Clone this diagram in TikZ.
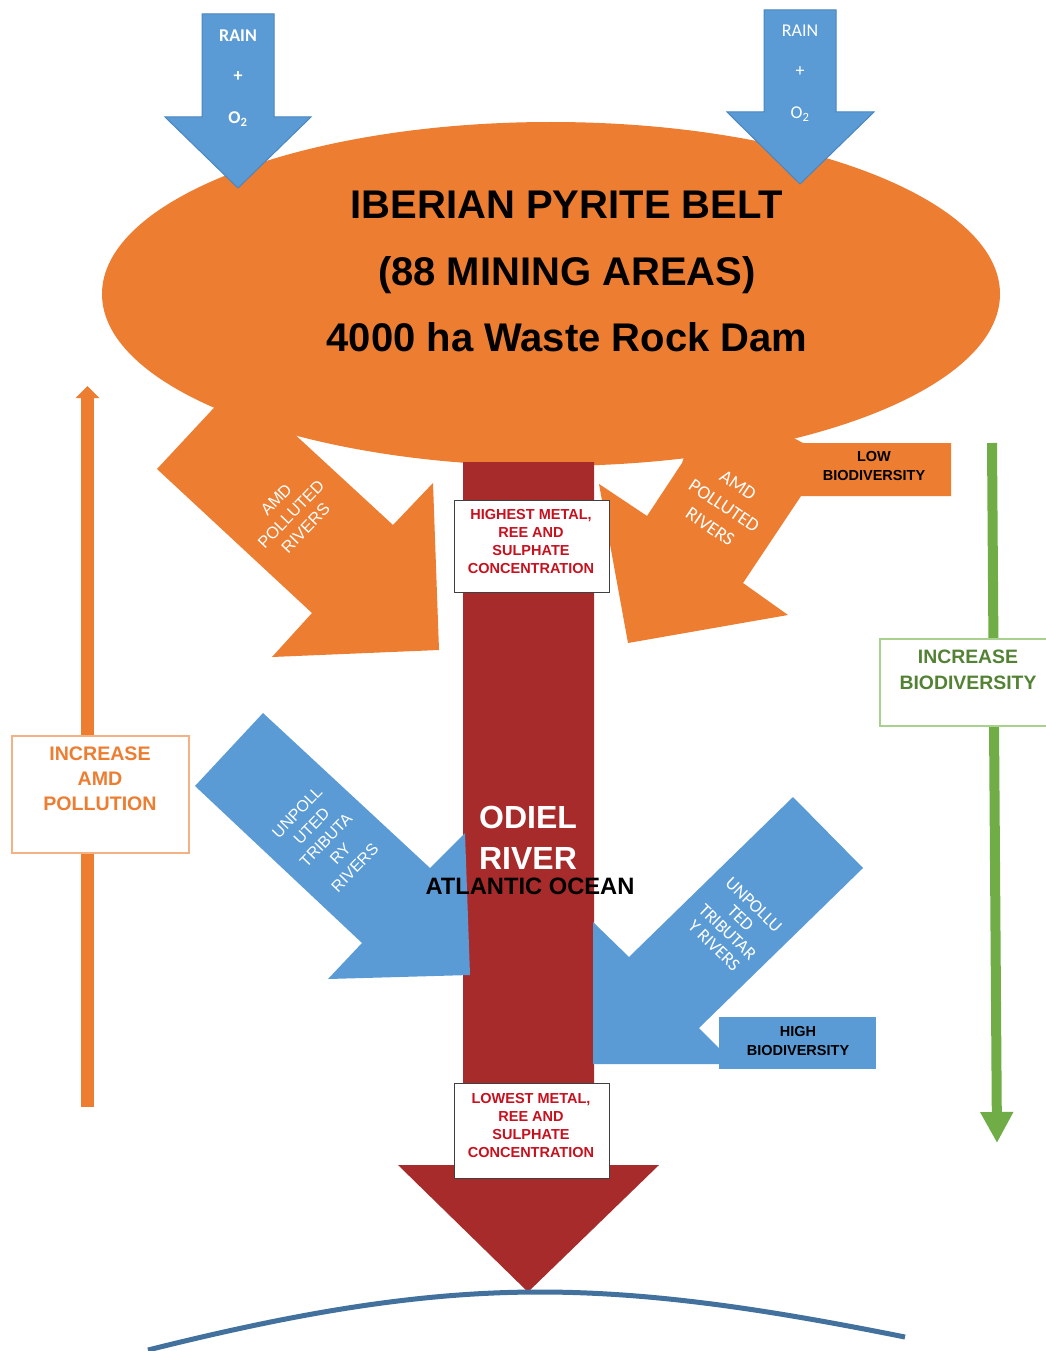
\documentclass[tikz,border=0pt]{standalone}
\usepackage{fontspec}
\setmainfont{Liberation Sans}
\newfontfamily\carl{Carlito}
\usetikzlibrary{shapes.geometric,arrows.meta}
\definecolor{orng}{HTML}{ED7D31}
\definecolor{blu}{HTML}{5B9BD5}
\definecolor{bluedge}{HTML}{4A86C0}
\definecolor{rivr}{HTML}{A82B2B}
\definecolor{txtred}{HTML}{C8101E}
\definecolor{grn}{HTML}{70AD47}
\definecolor{dkgrn}{HTML}{548235}
\definecolor{ltgrn}{HTML}{A9D18E}
\definecolor{ltorng}{HTML}{F4B183}
\definecolor{sea}{HTML}{41719C}
\begin{document}
\begin{tikzpicture}[x=1pt,y=-1pt,
  every node/.style={inner sep=0pt,outer sep=0pt},
  rain/.style={fill=blu,draw=bluedge,line width=1pt},
  raintxt/.style={text=white,font=\carl\fontsize{18}{20}\selectfont},
  whitetxt/.style={text=white,align=center},
  conc/.style={draw=black!75,line width=1pt,fill=white,minimum width=155pt},
  conctxt/.style={text=txtred,align=center,font=\bfseries\fontsize{14.5}{18}\selectfont},
  biotxt/.style={text=black,align=center,font=\bfseries\fontsize{14.5}{19}\selectfont}
]
\useasboundingbox (0,0) rectangle (1046,1351);
\clip (0,0) rectangle (1046,1351);
\fill[white] (0,0) rectangle (1046,1351);

% orange AMD arrows
\fill[orng] (238,382) -- (157,469) -- (312,613) -- (272,657) -- (439,650) -- (433,483) -- (393,525) -- (303,442) -- cycle;
\fill[orng] (690,440) -- (682,463) -- (647,516) -- (599,484) -- (628,643) -- (788,615) -- (743,583) -- (801,496) -- (951,496) -- (951,443) -- (803,443) -- (760,420) -- cycle;

% ellipse
\node[ellipse,fill=orng,minimum width=898pt,minimum height=344pt] (belt) at (551,294) {};

% river
\fill[rivr] (463,462) -- (594,462) -- (594,1165) -- (659,1165) -- (528,1292) -- (398,1165) -- (463,1165) -- cycle;

\node[align=center,font=\bfseries\fontsize{40}{66.5}\selectfont] (belttxt) at (567,271.5) {IBERIAN PYRITE BELT\\(88 MINING AREAS)\\4000 ha Waste Rock Dam};

% rain arrows
\fill[rain] (202,14) -- (274,14) -- (274,117) -- (311,117) -- (238,188) -- (165,117) -- (202,117) -- cycle;
\fill[rain] (764,10) -- (836,10) -- (836,112) -- (874,112) -- (800,184) -- (727,112) -- (764,112) -- cycle;
\node[raintxt,font=\carl\bfseries\fontsize{18}{20}\selectfont] (r1a) at (238,36) {RAIN};
\node[raintxt,font=\carl\bfseries\fontsize{18}{20}\selectfont] (r1b) at (238,77) {+};
\node[raintxt,font=\carl\bfseries\fontsize{18}{20}\selectfont] (r1c) at (238,119) {O\textsubscript{2}};
\node[raintxt] (r2a) at (800,31) {RAIN};
\node[raintxt] (r2b) at (800,72) {+};
\node[raintxt] (r2c) at (800,114) {O\textsubscript{2}};

% blue tributary arrows
\fill[blu] (263,713) -- (195,786) -- (362,943) -- (328,979) -- (470,975) -- (465,833) -- (430,868) -- cycle;
\fill[blu] (793,797) -- (863,868) -- (699,1028) -- (735,1064) -- (593,1064) -- (593,922) -- (629,957) -- cycle;
\node[fill=blu,minimum width=157pt,minimum height=52pt] (hibox) at (797.5,1043) {};
\node[biotxt] (hitxt) at (798,1040.5) {HIGH\\BIODIVERSITY};
\node[biotxt] (lowtxt) at (874,466.5) {LOW\\BIODIVERSITY};

% rotated labels
\node[whitetxt,rotate=46,font=\fontsize{16.5}{20.5}\selectfont] (amdl) at (291,514) {AMD\\POLLUTED\\RIVERS};
\node[whitetxt,rotate=-34,font=\carl\fontsize{19}{25}\selectfont] (amdr) at (724,506) {AMD\\POLLUTED\\RIVERS};
\node[whitetxt,rotate=46,font=\fontsize{16}{20}\selectfont] (tribl) at (326,840) {UNPOLL\\UTED\\TRIBUTA\\RY\\RIVERS};
\node[whitetxt,rotate=-44,font=\carl\fontsize{18}{19}\selectfont] (tribr) at (734,925) {UNPOLLU\\TED\\TRIBUTAR\\Y RIVERS};

% concentration boxes
\node[conc,minimum height=92pt] (hibx) at (531.5,546) {};
\node[conctxt] (hibxt) at (531,542) {HIGHEST METAL,\\REE AND\\SULPHATE\\CONCENTRATION};
\node[conc,minimum height=95pt] (lobx) at (531.5,1130.5) {};
\node[conctxt] (lobxt) at (531,1125) {LOWEST METAL,\\REE AND\\SULPHATE\\CONCENTRATION};

% river labels
\node[whitetxt,font=\bfseries\fontsize{32}{41}\selectfont] (odiel) at (528,837.5) {ODIEL\\RIVER};
\node[font=\bfseries\fontsize{23.7}{26}\selectfont] (atl) at (530,886) {ATLANTIC OCEAN};

% side arrows
\coordinate (ob) at (87.5,1107);
\coordinate (ot) at (87.5,386);
\draw[orng,line width=13pt,-{Triangle[width=23pt,length=12pt]}] (ob) -- (ot);
\node[draw=ltorng,line width=1.2pt,fill=white,minimum width=177pt,minimum height=117pt] (amdbox) at (100.5,794.5) {};
\node[text=orng,align=center,font=\bfseries\fontsize{19.6}{25}\selectfont] (amdboxt) at (100,779) {INCREASE\\AMD\\POLLUTION};

\coordinate (gt) at (992,443);
\coordinate (gb) at (997,1143);
\draw[grn,line width=10pt,-{Triangle[width=31pt,length=31pt]}] (gt) -- (gb);
\node[draw=ltgrn,line width=1.2pt,fill=white,minimum width=172pt,minimum height=87pt] (biobox) at (966,682.5) {};
\node[text=dkgrn,align=center,font=\bfseries\fontsize{19.4}{26}\selectfont] (bioboxt) at (968,670) {INCREASE\\BIODIVERSITY};

% ocean line
\coordinate (s1) at (148,1350);
\coordinate (s2) at (540,1292);
\coordinate (s3) at (905,1337);
\draw[sea,line width=5pt] (s1) .. controls (300,1312) and (420,1292) .. (s2) .. controls (660,1292) and (780,1312) .. (s3);
\end{tikzpicture}
\end{document}
